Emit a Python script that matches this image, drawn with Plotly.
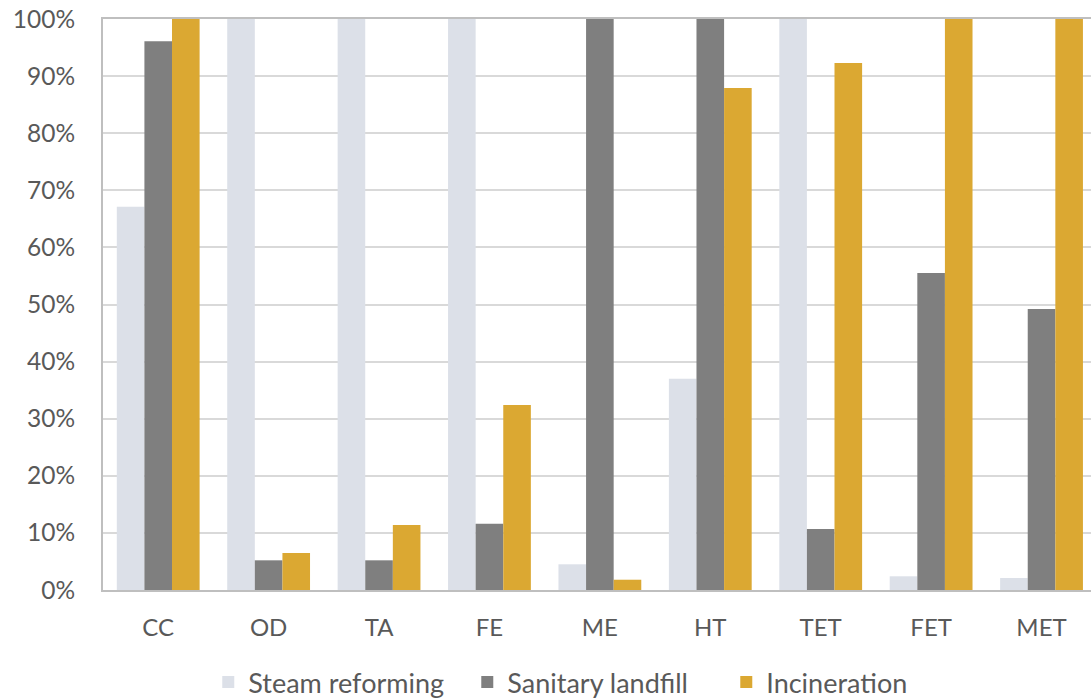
import plotly.graph_objects as go

# Impact categories and the relative contribution of each treatment route
categories = ["CC", "OD", "TA", "FE", "ME", "HT", "TET", "FET", "MET"]
steam_reforming = [67.1, 100, 100, 100, 4.5, 37.0, 100, 2.4, 2.1]
sanitary_landfill = [96.1, 5.2, 5.2, 11.6, 100, 100, 10.7, 55.5, 49.2]
incineration = [100, 6.5, 11.4, 32.4, 1.8, 87.9, 92.3, 100, 100]

series_names = ["Steam reforming", "Sanitary landfill", "Incineration"]
series_colors = ["#DCE0E8", "#7F7F7F", "#DBA832"]
y_ticks = [0, 10, 20, 30, 40, 50, 60, 70, 80, 90, 100]

text_color = "#595959"
font_family = "Lato, 'Open Sans', sans-serif"

fig = go.Figure()
for name, values, color in zip(series_names,
                               [steam_reforming, sanitary_landfill, incineration],
                               series_colors):
    fig.add_trace(go.Bar(
        name=name,
        x=categories,
        y=[v / 100 for v in values],
        marker=dict(color=color, line=dict(width=0)),
    ))

fig.update_layout(
    width=1091,
    height=700,
    margin=dict(l=103, r=0, t=19, b=110, autoexpand=False),
    paper_bgcolor="white",
    plot_bgcolor="white",
    barmode="group",
    bargap=0.25,
    bargroupgap=0,
    font=dict(family=font_family, color=text_color, size=24),
    showlegend=True,
    legend=dict(
        orientation="h",
        xref="container",
        yref="container",
        x=0.547,
        xanchor="center",
        y=0.025,
        yanchor="middle",
        font=dict(size=27, color=text_color),
        itemwidth=30,
        entrywidth=214,
        entrywidthmode="pixels",
        traceorder="normal",
    ),
)

fig.update_xaxes(
    type="category",
    range=[-0.5, 8.448],
    automargin=False,
    showline=True,
    linecolor="#BFBFBF",
    linewidth=2,
    mirror=True,
    ticks="",
    ticklabelstandoff=15,
    tickfont=dict(size=24, color=text_color),
    showgrid=False,
)

fig.update_yaxes(
    range=[0, 1],
    automargin=False,
    tickvals=[t / 100 for t in y_ticks],
    ticktext=[f"{t}%" for t in y_ticks],
    showline=True,
    linecolor="#BFBFBF",
    linewidth=2,
    ticks="",
    ticklabelstandoff=21,
    tickfont=dict(size=24.5, color=text_color),
    showgrid=True,
    gridcolor="#D9D9D9",
    gridwidth=1.5,
    zeroline=False,
)

fig.write_html("out.html")
